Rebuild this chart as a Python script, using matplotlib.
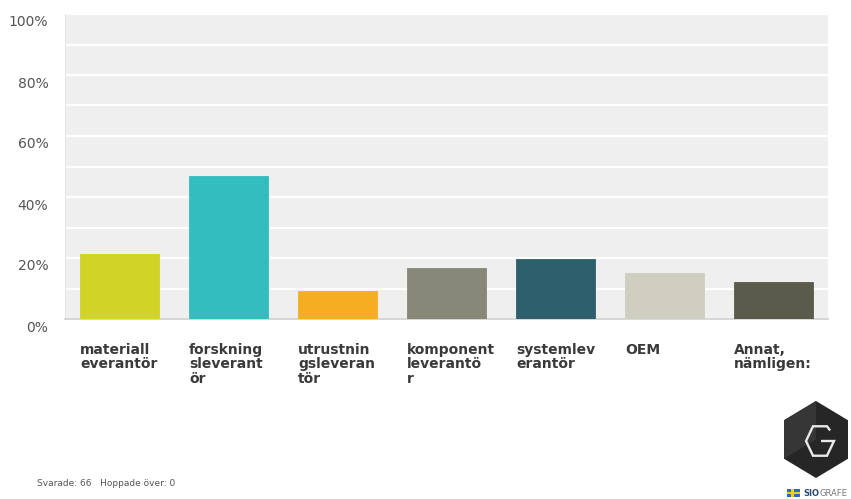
import matplotlib

matplotlib.use("Agg")
import matplotlib.pyplot as plt
import numpy as np
from matplotlib.patches import Polygon, Rectangle
from matplotlib.transforms import ScaledTranslation

# survey answers, share of respondents (n=66)
categories = [
    "materiall\neverantör",
    "forskning\nsleverant\nör",
    "utrustnin\ngsleveran\ntör",
    "komponent\nleverantö\nr",
    "systemlev\nerantör",
    "OEM",
    "Annat,\nnämligen:",
]
shares = [21.21, 46.97, 9.09, 16.67, 19.70, 15.15, 12.12]
colors = ["#cfd426", "#34bdbf", "#f5ae22", "#878878", "#2d5f6d", "#cfcec0", "#5b5b4b"]
y_ticks = [0, 20, 40, 60, 80, 100]
footer = "Svarade: 66   Hoppade över: 0"

W, H = 851, 499
fig = plt.figure(figsize=(W / 100, H / 100), dpi=100)
ax = fig.add_axes([65 / W, 1 - 319 / H, (828 - 65) / W, (319 - 14) / H])

x = np.arange(len(categories))
bw = 0.725
ax.bar(x, shares, width=bw, color=colors, edgecolor=colors, linewidth=0.6, zorder=3)

ax.set_facecolor("#efefef")
ax.set_xlim(-0.5, len(categories) - 0.5)
ax.set_ylim(0, 100)
ax.set_yticks(np.arange(0, 101, 10), minor=True)
ax.set_yticks(y_ticks)
ax.set_yticklabels([f"{v}%" for v in y_ticks], fontsize=10, color="#555555")
ax.grid(axis="y", which="both", color="white", linewidth=1.6, zorder=1)
ax.tick_params(axis="y", which="both", length=0, pad=12)
for lab in ax.get_yticklabels():
    lab.set_transform(lab.get_transform() + ScaledTranslation(0, -0.07, fig.dpi_scale_trans))

# category names sit left-aligned under each bar
ax.set_xticks(x - bw / 2)
ax.set_xticklabels(categories, fontsize=10, fontweight="bold", color="#3a3a3a",
                   ha="left", va="top", linespacing=1.05)
ax.tick_params(axis="x", length=0, pad=17)

for side in ("top", "right"):
    ax.spines[side].set_visible(False)
ax.spines["left"].set_color("#e6e6e6")
ax.spines["bottom"].set_color("#cfcfcf")
ax.spines["bottom"].set_linewidth(1.2)

# overlay in pixel coordinates for footer and logo
ov = fig.add_axes([0, 0, 1, 1], zorder=5)
ov.set_xlim(0, W)
ov.set_ylim(H, 0)
ov.axis("off")
ov.patch.set_alpha(0)

ov.text(37, 483, footer, fontsize=6.5, color="#555555", va="center", ha="left")

# dark hexagon badge
cx, cy, rx, ry = 816, 439.5, 32 / 0.866, 38.5
ang = np.deg2rad([90, 30, -30, -90, -150, 150])
hexv = np.column_stack([cx + rx * np.cos(ang), cy - ry * np.sin(ang)])
ov.add_patch(Polygon(hexv, closed=True, facecolor="#262626", edgecolor="none"))
face = np.array([hexv[0], hexv[5], hexv[4], [cx, cy]])
ov.add_patch(Polygon(face, closed=True, facecolor="#363636", edgecolor="none"))

# hexagonal "G"
gcx, gcy, grx, gry = 820, 441, 14, 17
ga = np.deg2rad([60, 120, 180, 240, 300, 0])
gpx = list(gcx + grx * np.cos(ga)) + [gcx + 1]
gpy = list(gcy - gry * np.sin(ga)) + [gcy]
# short tail at the top right of the letter
gpx = [gcx + grx * 0.72] + gpx
gpy = [gcy - gry * 0.62] + gpy
ov.plot(gpx, gpy, color="#e8e8e8", linewidth=1.7, solid_joinstyle="miter",
        solid_capstyle="butt")

# small flag and brand text
ov.add_patch(Rectangle((787, 489), 13, 8, facecolor="#2b6cb8", edgecolor="none"))
ov.add_patch(Rectangle((791, 489), 2.5, 8, facecolor="#f2cf1a", edgecolor="none"))
ov.add_patch(Rectangle((787, 492), 13, 2.2, facecolor="#f2cf1a", edgecolor="none"))
ov.text(803, 493, "SIO", fontsize=6, fontweight="bold", color="#2c4a7a", va="center", ha="left")
ov.text(819, 493, "GRAFE", fontsize=6, color="#777777", va="center", ha="left")

fig.savefig("out.png", dpi=100)
